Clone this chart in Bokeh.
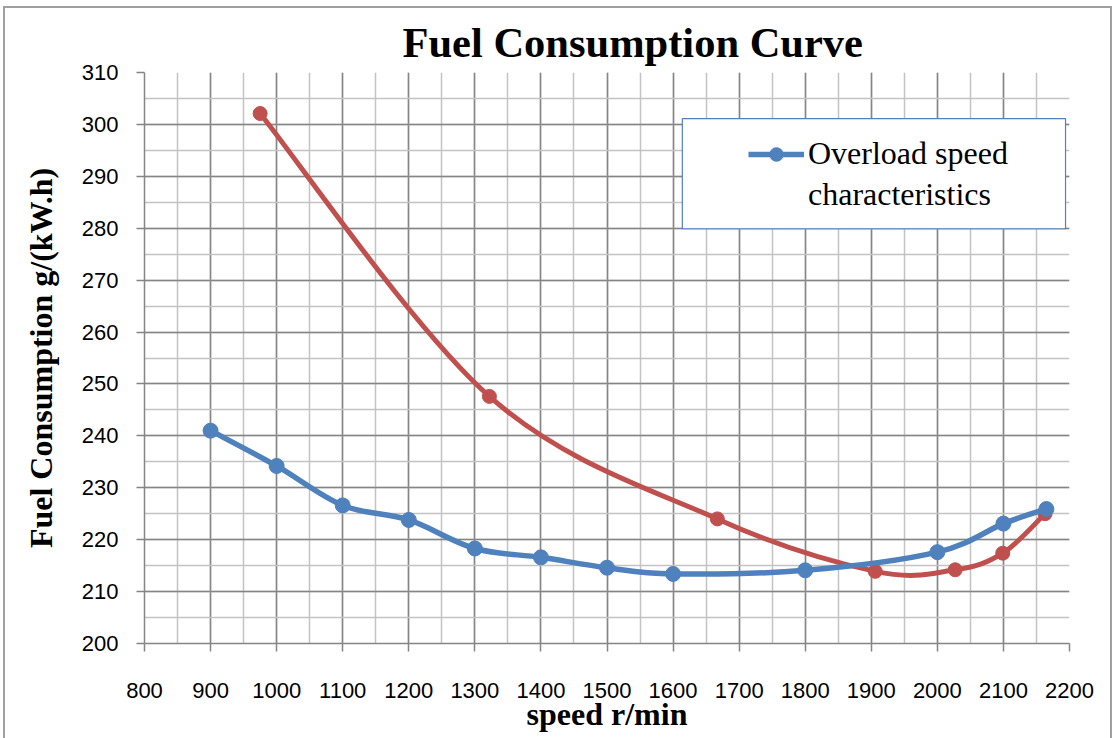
import numpy as np
from bokeh.plotting import figure
from bokeh.models import (FixedTicker, BoxAnnotation, Legend, LegendItem, Range1d)
from bokeh.embed import file_html
from bokeh.resources import INLINE

# ---- data ----
blue_speed = [900, 1000, 1100, 1200, 1300, 1400, 1500, 1600, 1800, 2000, 2100, 2165]
blue_fuel = [241.0, 234.2, 226.6, 223.8, 218.3, 216.6, 214.6, 213.4, 214.1, 217.6, 223.1, 225.9]
red_speed = [975, 1322, 1667, 1906, 2027, 2099, 2163]
red_fuel = [302.1, 247.6, 224.0, 213.9, 214.2, 217.4, 225.0]

x_ticks = list(range(800, 2201, 100))
x_minor = list(range(800, 2201, 50))
y_ticks = list(range(200, 311, 10))
y_minor = list(range(200, 311, 5))

title_text = "Fuel Consumption Curve"
x_label = "speed r/min"
y_label = "Fuel Consumption g/(kW.h)"
legend_lines = ["Overload speed", "characteristics"]

BLUE = "#4F81BD"
RED = "#C0504D"
MAJOR = "#858585"
MINOR = "#c3c3c3"


def smooth_segments(xs, ys, t=1.0 / 6.0):
    """Bezier control points for a smoothed line through the data points."""
    n = len(xs)
    x0, y0, x1, y1, cx0, cy0, cx1, cy1 = [], [], [], [], [], [], [], []
    for i in range(n - 1):
        pm = i - 1 if i > 0 else i
        pp = i + 2 if i + 2 < n else i + 1
        x0.append(xs[i]); y0.append(ys[i])
        x1.append(xs[i + 1]); y1.append(ys[i + 1])
        cx0.append(xs[i] + (xs[i + 1] - xs[pm]) * t)
        cy0.append(ys[i] + (ys[i + 1] - ys[pm]) * t)
        cx1.append(xs[i + 1] - (xs[pp] - xs[i]) * t)
        cy1.append(ys[i + 1] - (ys[pp] - ys[i]) * t)
    return dict(x0=x0, y0=y0, x1=x1, y1=y1, cx0=cx0, cy0=cy0, cx1=cx1, cy1=cy1)


p = figure(width=1105, height=730, output_backend="svg", toolbar_location=None,
           x_range=Range1d(800, 2200), y_range=Range1d(200, 310),
           min_border_left=139, min_border_right=41, min_border_top=64,
           min_border_bottom=95)
p.outline_line_color = None
p.background_fill_color = "white"
p.border_fill_color = "white"
p.styles = {"margin-left": "5px", "margin-top": "8px", "outline": "2px solid #a0a0a0"}

p.title.text = title_text
p.title.align = "left"
p.title.offset = 258
p.title.standoff = 14
p.title.text_font = "Liberation Serif"
p.title.text_font_style = "bold"
p.title.text_font_size = "42.5px"
p.title.text_color = "black"

p.xaxis.ticker = FixedTicker(ticks=x_ticks, minor_ticks=x_minor)
p.yaxis.ticker = FixedTicker(ticks=y_ticks, minor_ticks=y_minor)

for g in (p.xgrid, p.ygrid):
    g.grid_line_color = MAJOR
    g.grid_line_width = 1.5
    g.minor_grid_line_color = MINOR
    g.minor_grid_line_width = 1.5

for ax in (p.xaxis, p.yaxis):
    ax.axis_line_color = MAJOR
    ax.axis_line_width = 1.5
    ax.major_tick_line_color = MAJOR
    ax.major_tick_line_width = 1.5
    ax.major_tick_in = 0
    ax.major_tick_out = 8
    ax.minor_tick_in = 0
    ax.minor_tick_out = 0
    ax.major_label_text_font = "Liberation Sans"
    ax.major_label_text_font_size = "22px"
    ax.major_label_text_color = "black"
    ax.axis_label_text_font = "Liberation Serif"
    ax.axis_label_text_font_style = "bold"
    ax.axis_label_text_font_size = "32px"
    ax.axis_label_text_color = "black"

p.xaxis.axis_label = x_label
p.yaxis.axis_label = y_label
p.xaxis.major_label_standoff = 31
p.xaxis.axis_label_standoff = -5
p.yaxis.major_label_standoff = 18
p.yaxis.axis_label_standoff = 20

# smoothed lines
bs = smooth_segments(blue_speed, blue_fuel)
rs = smooth_segments(red_speed, red_fuel)
p.bezier(x0="x0", y0="y0", x1="x1", y1="y1", cx0="cx0", cy0="cy0", cx1="cx1", cy1="cy1",
         source=rs, line_color=RED, line_width=5)
p.scatter(red_speed, red_fuel, size=14, color=RED)
blue_line = p.bezier(x0="x0", y0="y0", x1="x1", y1="y1", cx0="cx0", cy0="cy0", cx1="cx1",
                     cy1="cy1", source=bs, line_color=BLUE, line_width=5.5)
blue_pts = p.scatter(blue_speed, blue_fuel, size=15, color=BLUE)

# legend box
p.add_layout(BoxAnnotation(left=1614, right=2194, top=301.1, bottom=279.9,
                           fill_color="white", fill_alpha=1.0,
                           line_color=BLUE, line_width=1.2, line_alpha=1.0,
                           level="annotation"))

legend = Legend(items=[LegendItem(label=legend_lines[0], renderers=[blue_line, blue_pts]),
                       LegendItem(label=legend_lines[1], renderers=[])],
                location=(604, 430), padding=0, margin=0, spacing=4,
                border_line_alpha=0, background_fill_alpha=0,
                glyph_width=56, glyph_height=34, label_height=34, label_standoff=4,
                label_text_font="Liberation Serif", label_text_font_size="32px",
                label_text_color="black")
p.add_layout(legend)

open("out.html", "w").write(file_html(p, INLINE))
